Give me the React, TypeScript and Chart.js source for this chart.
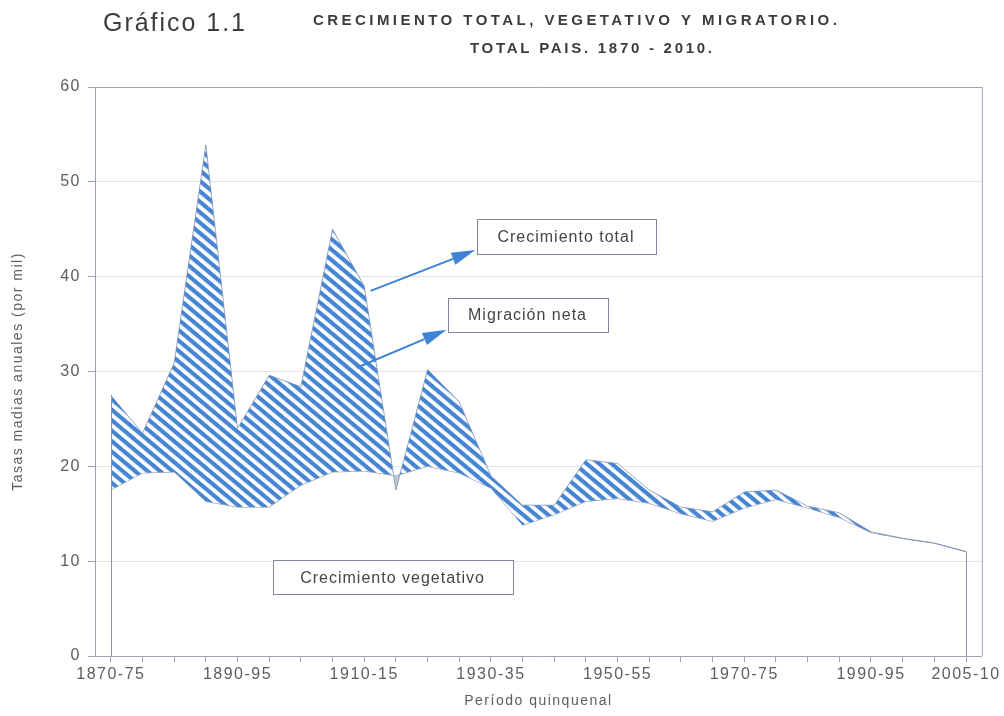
import React, { useEffect, useRef } from 'react';
import { Chart, registerables } from 'chart.js';

Chart.register(...registerables);

// ---------- DATA ----------
const periods = [
  '1870-75', '1875-80', '1880-85', '1885-90', '1890-95', '1895-00', '1900-05',
  '1905-10', '1910-15', '1915-20', '1920-25', '1925-30', '1930-35', '1935-40',
  '1940-45', '1945-50', '1950-55', '1955-60', '1960-65', '1965-70', '1970-75',
  '1975-80', '1980-85', '1985-90', '1990-95', '1995-00', '2000-05', '2005-10',
];
const shownTickLabels = ['1870-75', '1890-95', '1910-15', '1930-35', '1950-55', '1970-75', '1990-95', '2005-10'];

const crecimientoTotal = [
  27.5, 23.5, 30.9, 53.9, 24.0, 29.6, 28.4, 45.0, 39.0, 17.5,
  30.2, 26.8, 19.0, 15.9, 15.9, 20.7, 20.3, 17.5, 15.7, 15.2,
  17.3, 17.5, 15.8, 15.1, 13.1, 12.4, 11.9, 11.0,
];
const crecimientoVegetativo = [
  17.5, 19.3, 19.4, 16.3, 15.7, 15.7, 18.0, 19.4, 19.5, 19.0,
  20.0, 19.3, 17.7, 13.8, 14.9, 16.3, 16.6, 16.1, 15.0, 14.2,
  15.6, 16.5, 15.6, 14.6, 13.0, 12.4, 11.9, 11.0,
];

const yMin = 0;
const yMax = 60;
const yStep = 10;

const titleLeft = 'Gráfico 1.1';
const titleLine1 = 'CRECIMIENTO TOTAL, VEGETATIVO Y MIGRATORIO.';
const titleLine2 = 'TOTAL PAIS. 1870 - 2010.';
const yTitle = 'Tasas madias anuales (por mil)';
const xTitle = 'Período quinquenal';

// annotation boxes / arrows in data space (category index, value)
const noteBoxes = [
  { text: 'Crecimiento total', x0: 11.55, x1: 17.19, y0: 46.1, y1: 42.4 },
  { text: 'Migración neta', x0: 10.63, x1: 15.68, y0: 37.8, y1: 34.2 },
  { text: 'Crecimiento vegetativo', x0: 5.11, x1: 12.68, y0: 10.1, y1: 6.5 },
];
const noteArrows = [
  { fx: 8.2, fy: 38.5, tx: 11.51, ty: 42.8 },
  { fx: 7.76, fy: 30.4, tx: 10.6, ty: 34.4 },
];

// ---------- STYLE ----------
const FONT = '"Liberation Sans", Arial, Helvetica, sans-serif';
const AXIS_COLOR = '#9aa3b5';
const HATCH_BLUE = '#4585d2';
const ARROW_BLUE = '#3f83d4';
const TEXT = '#454545';

function makeHatch(ctx: CanvasRenderingContext2D): CanvasPattern | string {
  const tile = document.createElement('canvas');
  tile.width = 4;
  tile.height = 8;
  const t = tile.getContext('2d')!;
  t.fillStyle = '#ffffff';
  t.fillRect(0, 0, 4, 8);
  t.fillStyle = HATCH_BLUE;
  t.fillRect(0, 0, 4, 4.2);
  const pat = ctx.createPattern(tile, 'repeat');
  if (!pat) return HATCH_BLUE;
  try {
    const m = new DOMMatrix();
    m.rotateSelf(40);
    pat.setTransform(m);
  } catch (e) {
    /* ignore */
  }
  return pat;
}

function drawSpaced(ctx: CanvasRenderingContext2D, text: string, x: number, y: number, target: number) {
  (ctx as any).letterSpacing = '0px';
  const w = ctx.measureText(text).width;
  const sp = Math.max(0, (target - w) / Math.max(1, text.length - 1));
  (ctx as any).letterSpacing = sp.toFixed(2) + 'px';
  ctx.fillText(text, x, y);
  (ctx as any).letterSpacing = '0px';
}

const spacingPlugin = {
  id: 'spacing',
  beforeUpdate(chart: any) {
    chart.ctx.letterSpacing = '1.5px';
  },
  beforeDraw(chart: any) {
    chart.ctx.letterSpacing = '1.5px';
  },
};

const decorPlugin = {
  id: 'decor',
  afterDatasetsDraw(chart: any) {
    const { ctx, chartArea, scales } = chart;
    const xs = scales.x;
    const ys = scales.y;
    ctx.save();
    (ctx as any).letterSpacing = '0px';
    // plot frame top/right
    ctx.strokeStyle = AXIS_COLOR;
    ctx.lineWidth = 1;
    ctx.beginPath();
    ctx.moveTo(chartArea.left, chartArea.top + 0.5);
    ctx.lineTo(chartArea.right + 0.5, chartArea.top + 0.5);
    ctx.lineTo(chartArea.right + 0.5, chartArea.bottom);
    ctx.stroke();

    // vertical edges of vegetative area
    ctx.strokeStyle = '#8d94a3';
    const last = crecimientoVegetativo.length - 1;
    [0, last].forEach((i) => {
      const px = Math.round(xs.getPixelForValue(i)) + 0.5;
      ctx.beginPath();
      ctx.moveTo(px, ys.getPixelForValue(0));
      ctx.lineTo(px, ys.getPixelForValue(Math.max(crecimientoVegetativo[i], crecimientoTotal[i])));
      ctx.stroke();
    });

    // arrows
    noteArrows.forEach((a) => {
      const x0 = xs.getPixelForValue(a.fx);
      const y0 = ys.getPixelForValue(a.fy);
      const x1 = xs.getPixelForValue(a.tx);
      const y1 = ys.getPixelForValue(a.ty);
      const ang = Math.atan2(y1 - y0, x1 - x0);
      const headL = 24;
      const headW = 6.5;
      const bx = x1 - headL * Math.cos(ang);
      const by = y1 - headL * Math.sin(ang);
      ctx.strokeStyle = ARROW_BLUE;
      ctx.lineWidth = 2;
      ctx.beginPath();
      ctx.moveTo(x0, y0);
      ctx.lineTo(bx, by);
      ctx.stroke();
      ctx.fillStyle = ARROW_BLUE;
      ctx.beginPath();
      ctx.moveTo(x1, y1);
      ctx.lineTo(bx + headW * Math.sin(ang), by - headW * Math.cos(ang));
      ctx.lineTo(bx - headW * Math.sin(ang), by + headW * Math.cos(ang));
      ctx.closePath();
      ctx.fill();
    });

    // label boxes
    noteBoxes.forEach((b) => {
      const l = xs.getPixelForValue(b.x0);
      const r = xs.getPixelForValue(b.x1);
      const t = ys.getPixelForValue(b.y0);
      const btm = ys.getPixelForValue(b.y1);
      ctx.fillStyle = '#ffffff';
      ctx.fillRect(l, t, r - l, btm - t);
      ctx.strokeStyle = '#7f88a0';
      ctx.lineWidth = 1;
      ctx.strokeRect(Math.round(l) + 0.5, Math.round(t) + 0.5, Math.round(r - l), Math.round(btm - t));
      ctx.fillStyle = TEXT;
      ctx.font = '16px ' + FONT;
      (ctx as any).letterSpacing = '1px';
      ctx.textAlign = 'center';
      ctx.textBaseline = 'middle';
      ctx.fillText(b.text, (l + r) / 2, (t + btm) / 2 + 1);
      (ctx as any).letterSpacing = '0px';
    });
    ctx.restore();
  },
  afterDraw(chart: any) {
    const { ctx } = chart;
    ctx.save();
    ctx.fillStyle = '#3c3c3c';
    ctx.textAlign = 'left';
    ctx.textBaseline = 'alphabetic';
    ctx.font = '25px ' + FONT;
    drawSpaced(ctx, titleLeft, 103, 31, 142);
    ctx.font = 'bold 15px ' + FONT;
    drawSpaced(ctx, titleLine1, 313, 25, 524);
    drawSpaced(ctx, titleLine2, 470, 53, 242);
    ctx.restore();
  },
};

export default function App() {
  const canvasRef = useRef<HTMLCanvasElement | null>(null);

  useEffect(() => {
    const canvas = canvasRef.current;
    if (!canvas) return;
    const ctx = canvas.getContext('2d')!;
    const hatch = makeHatch(ctx);

    const chart = new Chart(canvas, {
      type: 'line',
      data: {
        labels: periods,
        datasets: [
          {
            label: 'Crecimiento total',
            data: crecimientoTotal,
            borderColor: 'rgba(120,140,175,0.75)',
            borderWidth: 1,
            pointRadius: 0,
            tension: 0,
            fill: { target: '+1', above: hatch as any, below: 'rgba(165,175,195,0.7)' },
            backgroundColor: hatch as any,
          },
          {
            label: 'Crecimiento vegetativo',
            data: crecimientoVegetativo,
            borderColor: 'rgba(130,140,160,0.8)',
            borderWidth: 1,
            pointRadius: 0,
            tension: 0,
            fill: false,
          },
        ],
      },
      options: {
        responsive: false,
        animation: false,
        events: [],
        layout: { padding: { top: 87, right: 21, left: 0, bottom: 0 } },
        plugins: {
          legend: { display: false },
          tooltip: { enabled: false },
          title: { display: false },
        },
        scales: {
          x: {
            type: 'category',
            offset: true,
            grid: {
              offset: false,
              drawOnChartArea: false,
              drawTicks: true,
              tickLength: 6,
              tickColor: AXIS_COLOR,
            },
            border: { display: true, color: AXIS_COLOR },
            ticks: {
              autoSkip: false,
              maxRotation: 0,
              minRotation: 0,
              padding: 3,
              color: '#5e5e5e',
              font: { size: 16, family: FONT },
              callback: (_v: any, i: number) => (shownTickLabels.includes(periods[i]) ? periods[i] : ''),
            },
            title: {
              display: true,
              text: xTitle,
              color: '#5e5e5e',
              font: { size: 14, family: FONT },
              padding: { top: 2, bottom: 6 },
            },
            afterFit: (s: any) => {
              s.height = 60;
            },
          },
          y: {
            min: yMin,
            max: yMax,
            ticks: {
              stepSize: yStep,
              padding: 7,
              color: '#5e5e5e',
              font: { size: 16, family: FONT },
            },
            grid: {
              color: '#e3e3e3',
              tickColor: AXIS_COLOR,
              tickLength: 7,
            },
            border: { display: true, color: AXIS_COLOR },
            title: {
              display: true,
              text: yTitle,
              color: '#5e5e5e',
              font: { size: 14, family: FONT },
              padding: { top: 10, bottom: 0 },
            },
            afterFit: (s: any) => {
              s.width = 95;
            },
          },
        },
      },
      plugins: [spacingPlugin, decorPlugin],
    });

    return () => chart.destroy();
  }, []);

  return (
    <div style={{ position: 'absolute', left: 0, top: 0, width: 1004, height: 716, background: '#ffffff' }}>
      <canvas ref={canvasRef} width={1004} height={716} style={{ display: 'block' }} />
    </div>
  );
}
